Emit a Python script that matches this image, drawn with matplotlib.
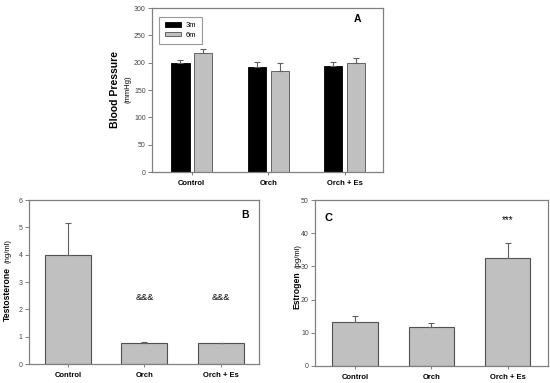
import matplotlib.pyplot as plt
import numpy as np

plt.rcParams['font.family'] = ['Liberation Sans', 'DejaVu Sans']

# group labels
groups = ['Control', 'Orch', 'Orch + Es']

# panel A - blood pressure (mmHg)
bp_3m = [199, 192, 193]
bp_3m_err = [5, 9, 8]
bp_6m = [217, 184, 200]
bp_6m_err = [8, 15, 9]

# panel B - testosterone (ng/ml)
testo = [4.0, 0.78, 0.78]
testo_err = [1.15, 0.02, 0.0]
testo_marks = ['', '&&&', '&&&']

# panel C - estrogen (pg/ml)
estro = [13.3, 11.8, 32.4]
estro_err = [1.7, 1.1, 4.6]
estro_marks = ['', '', '***']

grey = '#c0c0c0'
edge = '#505050'
spine = '#808080'

fig = plt.figure(figsize=(5.5, 3.83), dpi=100)

def style(ax, ymax, ystep):
    for s in ax.spines.values():
        s.set_color(spine)
        s.set_linewidth(0.9)
    ax.set_ylim(0, ymax)
    ax.set_yticks(np.arange(0, ymax + ystep / 2, ystep))
    ax.tick_params(axis='y', length=3, width=0.7, color=spine, labelsize=5,
                   labelcolor='#444444', pad=1.5)
    ax.tick_params(axis='x', length=2, width=0.7, color=spine, pad=4)
    ax.set_xticks(range(len(groups)))
    ax.set_xticklabels(groups, fontsize=5.5, fontweight='bold')

x = np.arange(len(groups))

# ---- A ----
axA = fig.add_axes([0.2764, 0.5509, 0.42, 0.4282])
w = 0.24
errkw = dict(ecolor='#606060', elinewidth=0.8, capsize=2, capthick=0.8)
axA.bar(x - 0.15, bp_3m, w, color='black', edgecolor='black', linewidth=0.6,
        yerr=[[0] * 3, bp_3m_err], error_kw=errkw, label='3m')
axA.bar(x + 0.15, bp_6m, w, color=grey, edgecolor=edge, linewidth=0.6,
        yerr=[[0] * 3, bp_6m_err], error_kw=errkw, label='6m')
axA.set_xlim(-0.52, 2.5)
style(axA, 300, 50)
leg = axA.legend(loc='upper left', fontsize=5.5, frameon=True, fancybox=False,
                 handlelength=2.2, handleheight=0.5, borderpad=0.7,
                 labelspacing=0.35, handletextpad=0.6,
                 bbox_to_anchor=(0.015, 0.97))
leg.get_frame().set_edgecolor(spine)
leg.get_frame().set_linewidth(0.8)
axA.text(0.89, 0.93, 'A', transform=axA.transAxes, fontsize=7.5,
         fontweight='bold', ha='center', va='center')
fig.text(115 / 550, 1 - 90 / 383, 'Blood Pressure', rotation=90, fontsize=7.5,
         fontweight='bold', ha='center', va='center')
fig.text(128 / 550, 1 - 89 / 383, '(mmHg)', rotation=90, fontsize=5.5,
         ha='center', va='center')

# ---- B ----
axB = fig.add_axes([0.0527, 0.0496, 0.4182, 0.4282])
axB.bar(x, testo, 0.6, color=grey, edgecolor=edge, linewidth=0.8,
        yerr=[[0] * 3, testo_err], error_kw=errkw)
for i, m in enumerate(testo_marks):
    if m:
        axB.text(i, 2.43, m, fontsize=6.5, ha='center', va='center')
axB.set_xlim(-0.51, 2.5)
style(axB, 6, 1)
axB.text(0.94, 0.91, 'B', transform=axB.transAxes, fontsize=7.5,
         fontweight='bold', ha='center', va='center')
fig.text(7 / 550, 1 - 294 / 383, 'Testosterone', rotation=90, fontsize=6.2,
         fontweight='bold', ha='center', va='center')
fig.text(8 / 550, 1 - 251 / 383, '(ng/ml)', rotation=90, fontsize=5.5,
         ha='center', va='center')

# ---- C ----
axC = fig.add_axes([0.5727, 0.0444, 0.4236, 0.4334])
axC.bar(x, estro, 0.6, color=grey, edgecolor=edge, linewidth=0.8,
        yerr=[[0] * 3, estro_err], error_kw=errkw)
for i, m in enumerate(estro_marks):
    if m:
        axC.text(i, 44, m, fontsize=7, ha='center', va='center')
axC.set_xlim(-0.53, 2.53)
style(axC, 50, 10)
axC.text(0.04, 0.89, 'C', transform=axC.transAxes, fontsize=8,
         fontweight='bold', ha='left', va='center')
fig.text(297 / 550, 1 - 290 / 383, 'Estrogen', rotation=90, fontsize=6.2,
         fontweight='bold', ha='center', va='center')
fig.text(298 / 550, 1 - 256 / 383, '(pg/ml)', rotation=90, fontsize=5.5,
         ha='center', va='center')

plt.savefig('out.png', dpi=100)
